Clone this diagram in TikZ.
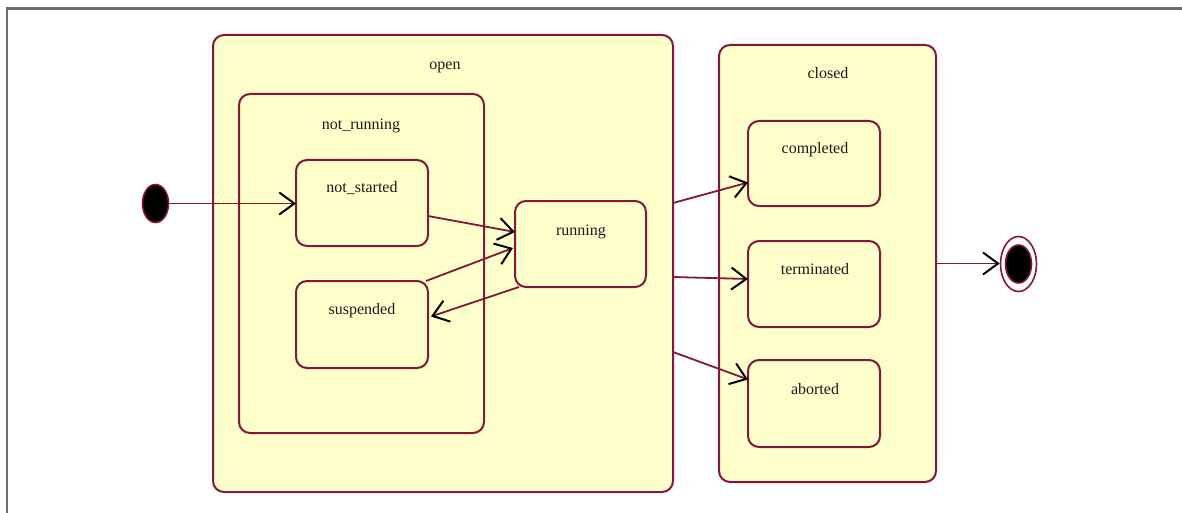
\documentclass[tikz,border=0pt]{standalone}
\usepackage{fontspec}
\setmainfont{Liberation Serif}
\usetikzlibrary{arrows.meta,shapes.geometric}
\definecolor{edgeC}{HTML}{85163A}
\definecolor{fillC}{HTML}{FFFFCC}
\definecolor{frameC}{HTML}{6E6E6E}
\begin{document}
\begin{tikzpicture}[x=1pt,y=-1pt,
  box/.style={draw=edgeC, fill=fillC, line width=2pt, rounded corners=11pt,
    inner sep=0pt, outer sep=0pt},
  txt/.style={anchor=base, inner sep=0pt, text=black!90,
    font=\fontsize{16pt}{19pt}\selectfont},
  trans/.style={draw=edgeC, line width=1.8pt,
    -{Straight Barb[length=15pt,width=22pt,line width=2pt,color=black]}},
  pseudo/.style={ellipse, draw=edgeC, line width=1.6pt, inner sep=0pt}]
\useasboundingbox (0,0) rectangle (1182,513);
% page frame
\draw[frameC, line width=2.2pt] (7,513) -- (7,8.5) -- (1182,8.5);

% composite states
\node[box, minimum width=460pt, minimum height=457pt] (op) at (443,263.5) {};
\node[txt] (oplbl) at (445,70) {open};
\node[box, minimum width=245pt, minimum height=339pt] (nr) at (361.5,263.5) {};
\node[txt] (nrlbl) at (361,130) {not\_running};
\node[box, minimum width=217pt, minimum height=437pt] (cl) at (827.5,263.5) {};
\node[txt] (cllbl) at (828,79) {closed};

% simple states
\node[box, minimum width=132pt, minimum height=86pt] (ns) at (362,203) {};
\node[txt] (nslbl) at (362,193) {not\_started};
\node[box, minimum width=132pt, minimum height=87pt] (sp) at (362,324.5) {};
\node[txt] (splbl) at (362,314) {suspended};
\node[box, minimum width=131pt, minimum height=86pt] (run) at (580.5,244) {};
\node[txt] (runlbl) at (581,235) {running};
\node[box, minimum width=132pt, minimum height=85pt] (co) at (814,163.5) {};
\node[txt] (colbl) at (815,154) {completed};
\node[box, minimum width=132pt, minimum height=86pt] (te) at (814,284) {};
\node[txt] (telbl) at (815,274) {terminated};
\node[box, minimum width=132pt, minimum height=87pt] (ab) at (814,403.5) {};
\node[txt] (ablbl) at (815,394) {aborted};

% initial and final pseudostates
\node[pseudo, fill=black, minimum width=26pt, minimum height=38pt] (init) at (155.5,203.5) {};
\node[pseudo, fill=white, minimum width=36pt, minimum height=55pt] (fin) at (1018.5,264) {};
\node[pseudo, fill=black, minimum width=26pt, minimum height=38pt] (finin) at (1018.5,264) {};

% transitions
\draw[trans] (init.east) -- (init.east -| ns.west);
\draw[trans] ([yshift=-13pt]ns.east) -- ([yshift=12pt]run.west);
\draw[trans] ([xshift=-2pt]sp.north east) -- ([xshift=-2pt,yshift=-4pt]run.west);
\draw[trans] ([xshift=4pt]run.south west) -- ([xshift=3pt,yshift=8pt]sp.east);
\draw[trans] ([yshift=60.5pt]op.east) -- ([yshift=-19pt]co.west);
\draw[trans] ([yshift=-13.5pt]op.east) -- ([yshift=5pt]te.west);
\draw[trans] ([yshift=-88.5pt]op.east) -- ([yshift=24pt]ab.west);
\draw[trans] (cl.east) -- (cl.east -| fin.west);
\end{tikzpicture}
\end{document}
